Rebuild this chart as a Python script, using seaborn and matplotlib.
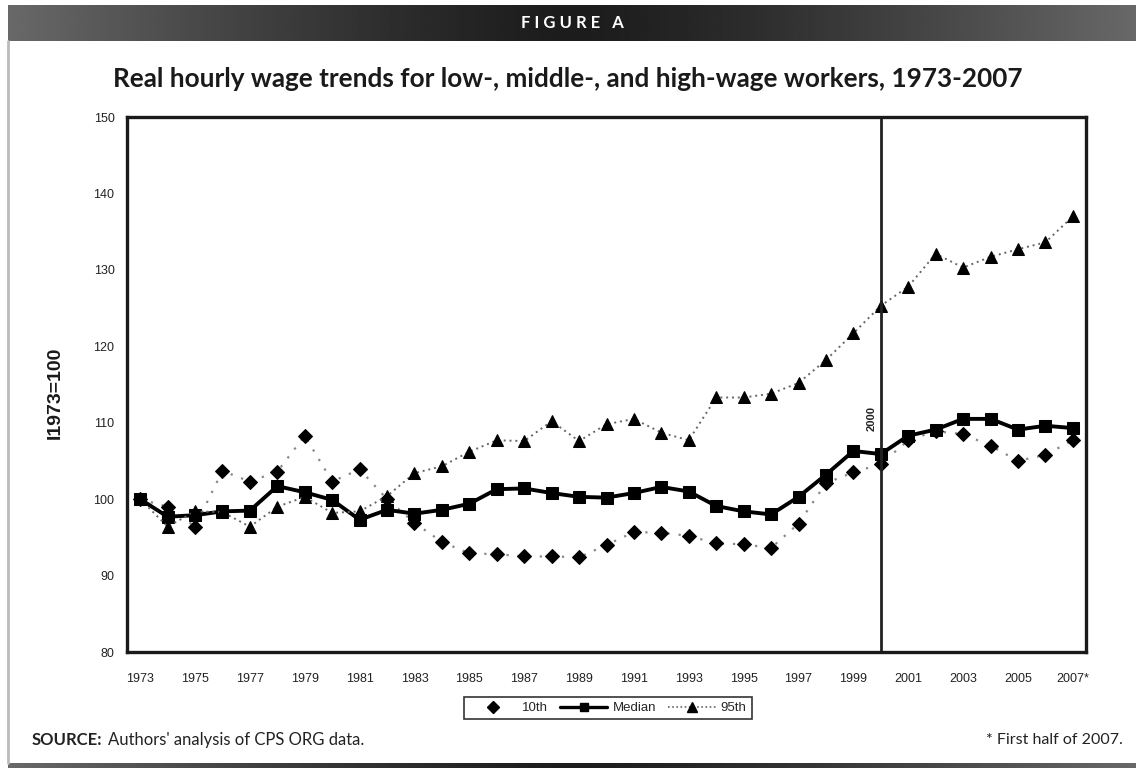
import numpy as np
import pandas as pd
import matplotlib.pyplot as plt
import seaborn as sns
from matplotlib.lines import Line2D

years = list(range(1973, 2008))

p10 = [100.0, 99.0, 96.4, 103.7, 102.3, 103.6, 108.3, 102.3, 103.9, 100.0,
       96.9, 94.4, 92.9, 92.8, 92.5, 92.5, 92.4, 94.0, 95.7, 95.6,
       95.2, 94.2, 94.1, 93.6, 96.8, 102.1, 103.5, 104.6, 107.7, 108.9,
       108.5, 107.0, 105.0, 105.8, 107.7]

median = [100.0, 97.7, 97.9, 98.4, 98.5, 101.7, 100.9, 99.9, 97.3, 98.6,
          98.1, 98.6, 99.4, 101.3, 101.4, 100.8, 100.3, 100.2, 100.8, 101.6,
          101.0, 99.1, 98.4, 98.0, 100.3, 103.2, 106.3, 105.9, 108.3, 109.1,
          110.5, 110.5, 109.1, 109.6, 109.3]

p95 = [100.0, 96.4, 98.4, 98.3, 96.4, 99.0, 100.3, 98.2, 98.4, 100.4,
       103.4, 104.3, 106.2, 107.7, 107.6, 110.2, 107.6, 109.8, 110.5, 108.7,
       107.7, 113.3, 113.3, 113.8, 115.2, 118.2, 121.7, 125.3, 127.8, 132.1,
       130.3, 131.7, 132.7, 133.6, 137.0]

xtick_years = list(range(1973, 2008, 2))
xtick_labels = [str(y) for y in xtick_years[:-1]] + ["2007*"]
ytick_values = list(range(80, 151, 10))

df = pd.DataFrame({"year": years, "p10": p10, "median": median, "p95": p95})

sns.set_theme(style="white")
plt.rcParams["font.family"] = ["Liberation Sans", "DejaVu Sans"]
humanist = ["Lato", "DejaVu Sans"]

fig = plt.figure(figsize=(11.36, 7.68), dpi=100)
fig.patch.set_facecolor("white")

# dark gradient header bar
hdr = fig.add_axes([0.007, 1 - 41 / 768, 0.993, 36 / 768])
grad = np.abs(np.linspace(-1, 1, 400))
grad = 0.11 + 0.30 * grad ** 1.3
hdr.imshow(np.vstack([grad, grad]), aspect="auto", cmap="gray", vmin=0, vmax=1)
hdr.axis("off")
hdr.text(0.5, 0.5, "F I G U R E   A", color="white", fontsize=12,
         fontweight="bold", ha="center", va="center", transform=hdr.transAxes,
         family=humanist)

# bottom bar
bot = fig.add_axes([0.007, 0, 0.993, 5 / 768])
bot.imshow(np.vstack([grad, grad]), aspect="auto", cmap="gray", vmin=0, vmax=1)
bot.axis("off")

# thin frame on the left
fig.add_artist(Line2D([0.007, 0.007], [5 / 768, 1 - 41 / 768], color="#bbbbbb",
                      lw=2, transform=fig.transFigure))

ax = fig.add_axes([127 / 1136, 1 - 652 / 768, 959 / 1136, 535 / 768])

sns.lineplot(data=df, x="year", y="p10", ax=ax, color="#888888",
             linestyle=(0, (1, 4)), linewidth=1.6, marker="D", markersize=7,
             markerfacecolor="black", markeredgecolor="black")
sns.lineplot(data=df, x="year", y="median", ax=ax, color="black",
             linestyle="-", linewidth=2.8, marker="s", markersize=8,
             markerfacecolor="black", markeredgecolor="black")
sns.lineplot(data=df, x="year", y="p95", ax=ax, color="#666666",
             linestyle=(0, (1, 2)), linewidth=1.4, marker="^", markersize=9,
             markerfacecolor="black", markeredgecolor="black")

ax.axvline(2000, color="#222222", lw=2)
ax.text(1999.67, 110.5, "2000", rotation=90, fontsize=8, fontweight="bold",
        ha="center", va="center", color="#222222")

ax.set_xlim(1972.52, 2007.48)
ax.set_ylim(80, 150)
ax.set_xticks(xtick_years)
ax.set_xticklabels(xtick_labels)
ax.set_yticks(ytick_values)
ax.tick_params(axis="both", length=0, labelsize=9, colors="#222222")
ax.tick_params(axis="x", pad=15)
ax.tick_params(axis="y", pad=9)
ax.set_xlabel("")
ax.set_ylabel("")
for sp in ax.spines.values():
    sp.set_color("#1a1a1a")
    sp.set_linewidth(2.4)

fig.text(55 / 1136, 1 - 393 / 768, "I1973=100", rotation=90, fontsize=14,
         fontweight="bold", ha="center", va="center", color="#1a1a1a")

fig.text(568 / 1136, 1 - 79 / 768,
         "Real hourly wage trends for low-, middle-, and high-wage workers, 1973-2007",
         fontsize=18.8, fontweight="bold", ha="center", va="center",
         family=humanist, color="#1a1a1a")

handles = [
    Line2D([], [], color="#777777", linestyle="none", marker="D", markersize=6,
           markerfacecolor="black", markeredgecolor="black"),
    Line2D([], [], color="black", linestyle="-", lw=2.4, marker="s", markersize=6,
           markerfacecolor="black", markeredgecolor="black"),
    Line2D([], [], color="#666666", linestyle=(0, (1, 1.5)), lw=1.2, marker="^",
           markersize=7, markerfacecolor="black", markeredgecolor="black"),
]
leg = fig.legend(handles, ["10th", "Median", "95th"], ncol=3,
                 loc="center", bbox_to_anchor=(608 / 1136, 1 - 708 / 768),
                 fontsize=9.5, frameon=True, fancybox=False, handlelength=3.6,
                 handletextpad=0.4, columnspacing=0.9, borderpad=0.4)
leg.get_frame().set_edgecolor("black")
leg.get_frame().set_linewidth(1.2)

src = fig.text(32 / 1136, 1 - 740 / 768, "SOURCE:", fontsize=12, fontweight="bold",
               ha="left", va="center", family=humanist, color="#222222")
ax.annotate("Authors' analysis of CPS ORG data.", xy=(1, 0.5), xycoords=src,
            xytext=(4, 0), textcoords="offset points", fontsize=12,
            ha="left", va="center", family=humanist, color="#222222",
            annotation_clip=False)
fig.text(1123 / 1136, 1 - 740 / 768, "* First half of 2007.", fontsize=11.5,
         ha="right", va="center", family=humanist, color="#222222")

fig.savefig("out.png", dpi=100)
